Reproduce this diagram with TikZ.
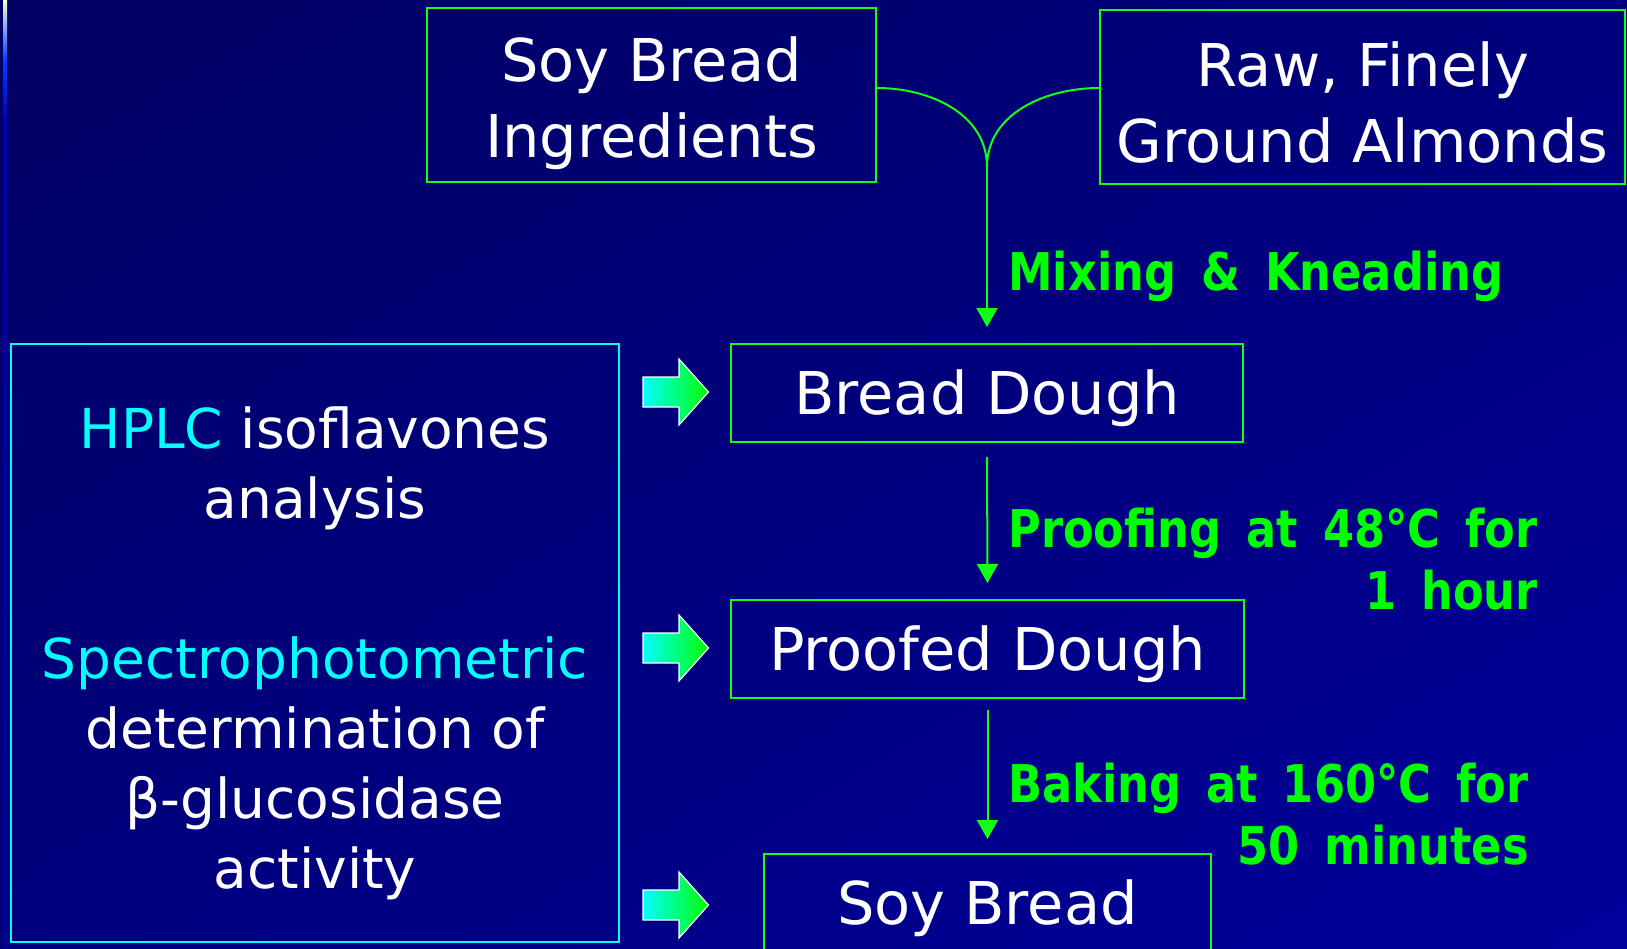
\documentclass[tikz,border=0pt]{standalone}
\usepackage{fontspec}
\setmainfont{DejaVu Sans}
\newfontfamily\stepfont[FakeStretch=0.86,WordSpace=1.6]{DejaVu Sans}
\usetikzlibrary{arrows.meta,shadings}
\definecolor{navydark}{RGB}{0,0,98}
\definecolor{navymid}{RGB}{0,0,125}
\definecolor{navylight}{RGB}{0,0,155}
\definecolor{linkgreen}{RGB}{20,255,20}
\definecolor{textgreen}{RGB}{0,255,0}
\definecolor{aqua}{RGB}{0,255,255}
\newcommand{\lift}[1]{\rule{0pt}{#1}}
\tikzset{
  stage/.style={draw=linkgreen, line width=1pt, text=white, inner sep=0pt, align=center,
    font=\fontsize{29.5}{38}\selectfont},
  steplabel/.style={text=textgreen, inner sep=0pt, align=right,
    font=\stepfont\bfseries\fontsize{26}{31}\selectfont},
  flow/.style={draw=linkgreen, line width=1pt, -{Triangle[width=10.5pt,length=9.5pt]}},
  link/.style={draw=linkgreen, line width=1pt}
}

\begin{document}
\begin{tikzpicture}[x=0.5pt,y=-0.5pt]
\tikzset{
  fatarrow/.pic={\shade[left color=aqua, right color=textgreen, draw=white, line width=0.6pt]
    (-32.5,-15) -- (3.5,-15) -- (3.5,-33) -- (33,0) -- (3.5,33) -- (3.5,15) -- (-32.5,15) -- cycle;}
}
\useasboundingbox (0,0) rectangle (1627,948);
\shade[upper left=navydark, upper right=navymid, lower left=navymid, lower right=navylight]
  (0,0) rectangle (1627,948);
\shade[top color=white!85!yellow, bottom color=blue!75!cyan] (3,0) rectangle (7,60);
\shade[top color=blue!75!cyan, bottom color=blue!70!black] (3,60) rectangle (7,120);
\shade[top color=blue!70!black, bottom color=blue!55!black] (3,120) rectangle (7,948);

% process boxes
\node[stage, minimum width=224.5pt, minimum height=87pt] (ingr) at (651.5,95) {\lift{30.5pt}Soy Bread\\Ingredients};
\node[stage, minimum width=262.5pt, minimum height=87pt] (almonds) at (1362.5,97) {\lift{28pt}Raw, Finely\\Ground Almonds};
\node[stage, minimum width=256pt, minimum height=49pt] (dough) at (987,393) {\lift{27.5pt}Bread Dough};
\node[stage, minimum width=256.5pt, minimum height=49pt] (proofed) at (987.5,649) {\lift{28pt}Proofed Dough};
\node[stage, minimum width=223.5pt, minimum height=49pt] (bread) at (987.5,903) {\lift{28pt}Soy Bread};

% analysis box
\node[draw=aqua, line width=1pt, text=white, inner sep=0pt, align=center,
  minimum width=304pt, minimum height=299pt, font=\fontsize{27.5}{35}\selectfont] (assay) at (315,643)
  {\lift{31.5pt}{\color{aqua}HPLC} isoflavones\\analysis\\[45pt]{\color{aqua}Spectrophotometric}\\determination of\\β-glucosidase\\activity};

% connectors
\coordinate (mix) at (987,167);
\draw[link] ([yshift=3.5pt]ingr.east) to[out=0,in=90] (mix);
\draw[link] ([yshift=4.5pt]almonds.west) to[out=180,in=90] (mix);
\draw[flow] (mix) -- ([yshift=8pt]dough.north);
\draw[flow] ([yshift=-7pt]dough.south) -- ([yshift=8pt]proofed.north);
\draw[flow] ([yshift=-5.5pt]proofed.south) -- ([yshift=7pt]bread.north);

\node[steplabel, anchor=base west] (mixlbl) at (1008,290) {Mixing \& Kneading};
\node[steplabel, anchor=base west] (prooflbl) at (1008,609) {Proofing at 48°C for\\1 hour};
\node[steplabel, anchor=base west] (bakelbl) at (1008,864) {Baking at 160°C for\\50 minutes};

\pic at (675.5,392) {fatarrow};
\pic at (675.5,648) {fatarrow};
\pic at (675.5,905) {fatarrow};
\end{tikzpicture}
\end{document}
